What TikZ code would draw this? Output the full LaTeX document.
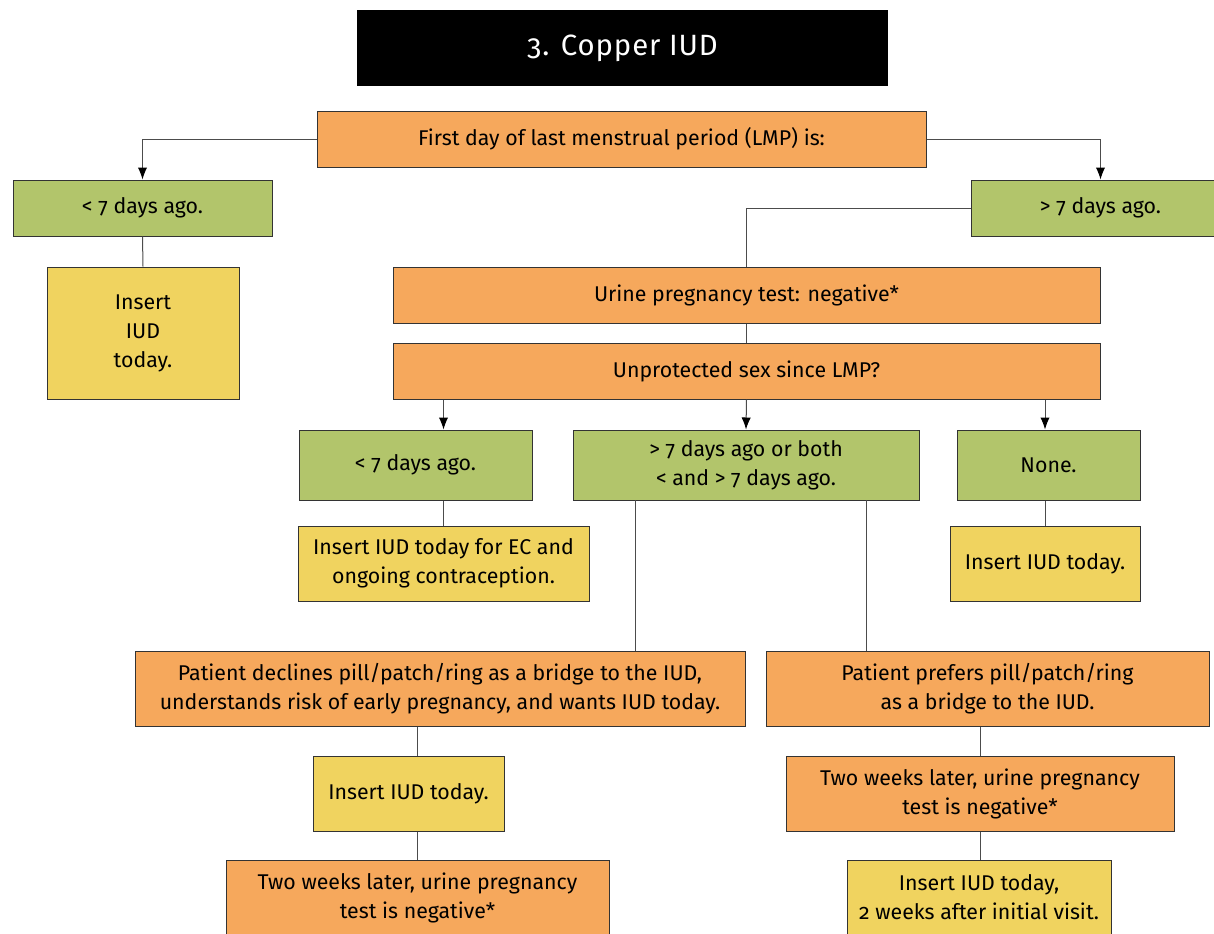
\documentclass[tikz,border=0pt]{standalone}
\usepackage{fontspec}
\setmainfont{Fira Sans}[Numbers=OldStyle]
\usepackage{xcolor}
\usepackage{tikz}
\usetikzlibrary{positioning,calc,arrows.meta}

\definecolor{boxorange}{HTML}{F6A85C}
\definecolor{boxgreen}{HTML}{B2C56B}
\definecolor{boxyellow}{HTML}{F0D35F}

\begin{document}
\begin{tikzpicture}[x=0.75pt, y=-0.75pt,
    every node/.style={font=\fontsize{16}{21.75}\selectfont, align=center},
    span/.style args={#1/#2/#3/#4}{minimum width={(#3-#1)*0.75pt}, minimum height={(#4-#2)*0.75pt},
        at={($(#1,#2)!0.5!(#3,#4)$)}},
    base/.style={draw=black!80, line width=0.75pt, inner sep=0pt},
    obox/.style={base, fill=boxorange},
    gbox/.style={base, fill=boxgreen},
    ybox/.style={base, fill=boxyellow},
    link/.style={draw=black!70, line width=0.75pt},
    arr/.style={link, -{Latex[length=9pt,width=7pt,black]}}]
    \useasboundingbox (0,0) rectangle (1214,933);
    \clip (0,0) rectangle (1214,933);

    % title
    \node[fill=black, text=white, inner sep=0pt, span=357/10/888/86,
        font=\fontsize{22}{26}\selectfont\addfontfeature{LetterSpace=3}] (title) {3. Copper IUD};

    % first question
    \node[obox, span=317/111/926/167] (lmp) {First day of last menstrual period (LMP) is:};
    \node[gbox, span=13/180/272/236] (lmpless) {< 7 days ago.};
    \node[gbox, span=971/180/1230/236] (lmpmore) {> 7 days ago.};
    \node[ybox, span=47/267/239/399] (insertA) {Insert\\IUD\\today.};

    % more than 7 days
    \node[obox, span=393/267/1100/323] (urine) {Urine pregnancy test: negative*};
    \node[obox, span=393/343/1100/399] (unsafe) {Unprotected sex since LMP?};
    \node[gbox, span=299/430/532/500] (sexless) {< 7 days ago.};
    \node[gbox, span=573/430/919/500] (sexmore) {> 7 days ago or both\\< and > 7 days ago.};
    \node[gbox, span=957/430/1140/500] (sexnone) {None.};
    \node[ybox, span=298/526/589/601] (insertEC) {Insert IUD today for EC and\\ongoing contraception.};
    \node[ybox, span=950/526/1140/601] (insertB) {Insert IUD today.};

    % bridge or not
    \node[obox, span=135/651/745/726] (declines) {Patient declines pill/patch/ring as a bridge to the IUD,\\understands risk of early pregnancy, and wants IUD today.};
    \node[obox, span=766/651/1209/726] (prefers) {Patient prefers pill/patch/ring\\as a bridge to the IUD.};
    \node[ybox, span=313/756/504/831] (insertC) {Insert IUD today.};
    \node[obox, span=226/860/609/935] (lateA) {Two weeks later, urine pregnancy\\test is negative*};
    \node[obox, span=786/756/1174/831] (lateB) {Two weeks later, urine pregnancy\\test is negative*};
    \node[ybox, span=847/860/1111/935] (insertD) {Insert IUD today,\\2 weeks after initial visit.};

    % connectors
    \draw[arr] (lmp.west) -| (lmpless.north);
    \draw[arr] (lmp.east) -| (lmpmore.north);
    \draw[link] (lmpless.south) -- (insertA.north);
    \draw[link] (lmpmore.west) -| (urine.north);
    \draw[link] (urine.south) -- (unsafe.north);
    \draw[arr] (unsafe.south -| insertEC.north) -- (sexless.north -| insertEC.north);
    \draw[arr] (unsafe.south) -- (sexmore.north);
    \draw[arr] (unsafe.south -| insertB.north) -- (sexnone.north -| insertB.north);
    \draw[link] (sexless.south -| insertEC.north) -- (insertEC.north);
    \draw[link] (sexnone.south -| insertB.north) -- (insertB.north);
    \coordinate (splitL) at (635,500);
    \coordinate (splitR) at (866,500);
    \draw[link] (splitL) -- (splitL |- declines.north);
    \draw[link] (splitR) -- (splitR |- prefers.north);
    \draw[link] (declines.south -| lateA.north) -- (insertC.north -| lateA.north);
    \draw[link] (insertC.south -| lateA.north) -- (lateA.north);
    \draw[link] (prefers.south -| lateB.north) -- (lateB.north);
    \draw[link] (lateB.south) -- (insertD.north -| lateB.south);
\end{tikzpicture}
\end{document}
